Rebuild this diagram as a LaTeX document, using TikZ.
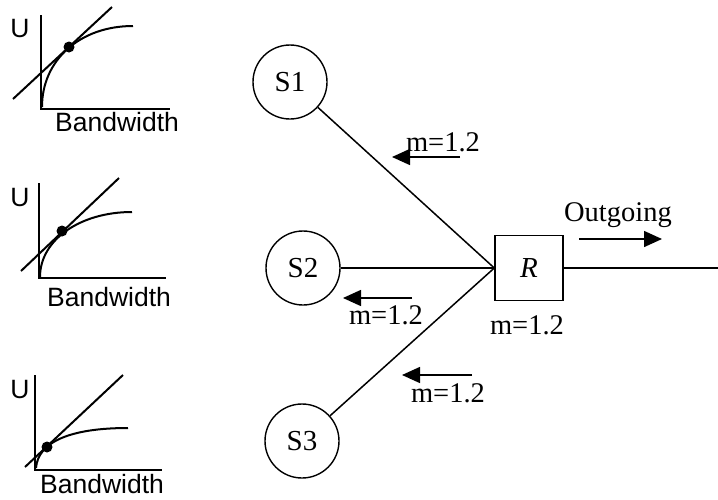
\documentclass[tikz,border=0pt]{standalone}
\usepackage{fontspec}
\setmainfont{Liberation Serif}
\newfontfamily\arialf{Liberation Sans}
\usetikzlibrary{arrows.meta}
\begin{document}
\begin{tikzpicture}[x=1pt,y=-1pt,
  lbl/.style={font=\fontsize{28.5}{32}\selectfont, inner sep=0pt},
  glbl/.style={font=\arialf\fontsize{26.5}{30}\selectfont, inner sep=0pt},
  gline/.style={line width=2pt},
  net/.style={line width=1.5pt},
  src/.style={circle, draw, line width=1.4pt, minimum size=74pt, inner sep=0pt, font=\fontsize{29}{32}\selectfont},
  router/.style={draw, line width=1.4pt, minimum width=68pt, minimum height=65pt, inner sep=0pt, font=\itshape\fontsize{29}{32}\selectfont},
  marrow/.style={line width=1.5pt, -{Triangle[length=18pt,width=16pt]}},
  dot/.style={circle, fill=black, minimum size=11pt, inner sep=0pt}
]
\useasboundingbox (0,0) rectangle (718,499);

% ---- graph 1 ----
\draw[gline] (41,15) -- (41,109) -- (170,109);
\draw[gline] (42,107) .. controls (42,60) and (80,26) .. (133,26);
\draw[gline] (13,99) -- (112,7);
\node[dot] (d1) at (69,47) {};
\node[glbl] (u1) at (20,29) {U};
\node[glbl] (b1) at (117,122) {Bandwidth};

% ---- graph 2 ----
\draw[gline] (39,183) -- (39,278) -- (166,278);
\draw[gline] (40,277) .. controls (40,240) and (80,212) .. (132,212);
\draw[gline] (21,271) -- (119,178);
\node[dot] (d2) at (62,231) {};
\node[glbl] (u2) at (20,198) {U};
\node[glbl] (b2) at (109,297) {Bandwidth};

% ---- graph 3 ----
\draw[gline] (35,375) -- (35,470) -- (162,470);
\draw[gline] (36,468) .. controls (38,442) and (70,428) .. (128,428);
\draw[gline] (25,467) -- (123,375);
\node[dot] (d3) at (47,447) {};
\node[glbl] (u3) at (20,390) {U};
\node[glbl] (b3) at (102,484) {Bandwidth};

% ---- network ----
\node[src] (s1) at (290,82) {S1};
\node[src] (s2) at (303,268) {S2};
\node[src] (s3) at (302,441) {S3};
\node[router] (r) at (529,268) {R};
\coordinate (out) at (718,268);

\draw[net] (s1) -- (r.west);
\draw[net] (s2) -- (r.west);
\draw[net] (s3) -- (r.west);
\draw[net] (r.east) -- (out);

% arrows and labels
\coordinate (a1s) at (460,157); \coordinate (a1e) at (392,157);
\draw[marrow] (a1s) -- (a1e);
\node[lbl] (m1) at (443,142) {m=1.2};

\coordinate (a2s) at (412,298); \coordinate (a2e) at (343,298);
\draw[marrow] (a2s) -- (a2e);
\node[lbl] (m2) at (386,315) {m=1.2};

\coordinate (a3s) at (472,375); \coordinate (a3e) at (402,375);
\draw[marrow] (a3s) -- (a3e);
\node[lbl] (m3) at (448,393) {m=1.2};

\node[lbl] (mr) at (527,325) {m=1.2};

\coordinate (aos) at (579,239); \coordinate (aoe) at (662,239);
\draw[marrow] (aos) -- (aoe);
\node[lbl] (og) at (618,215) {Outgoing};
\end{tikzpicture}
\end{document}
